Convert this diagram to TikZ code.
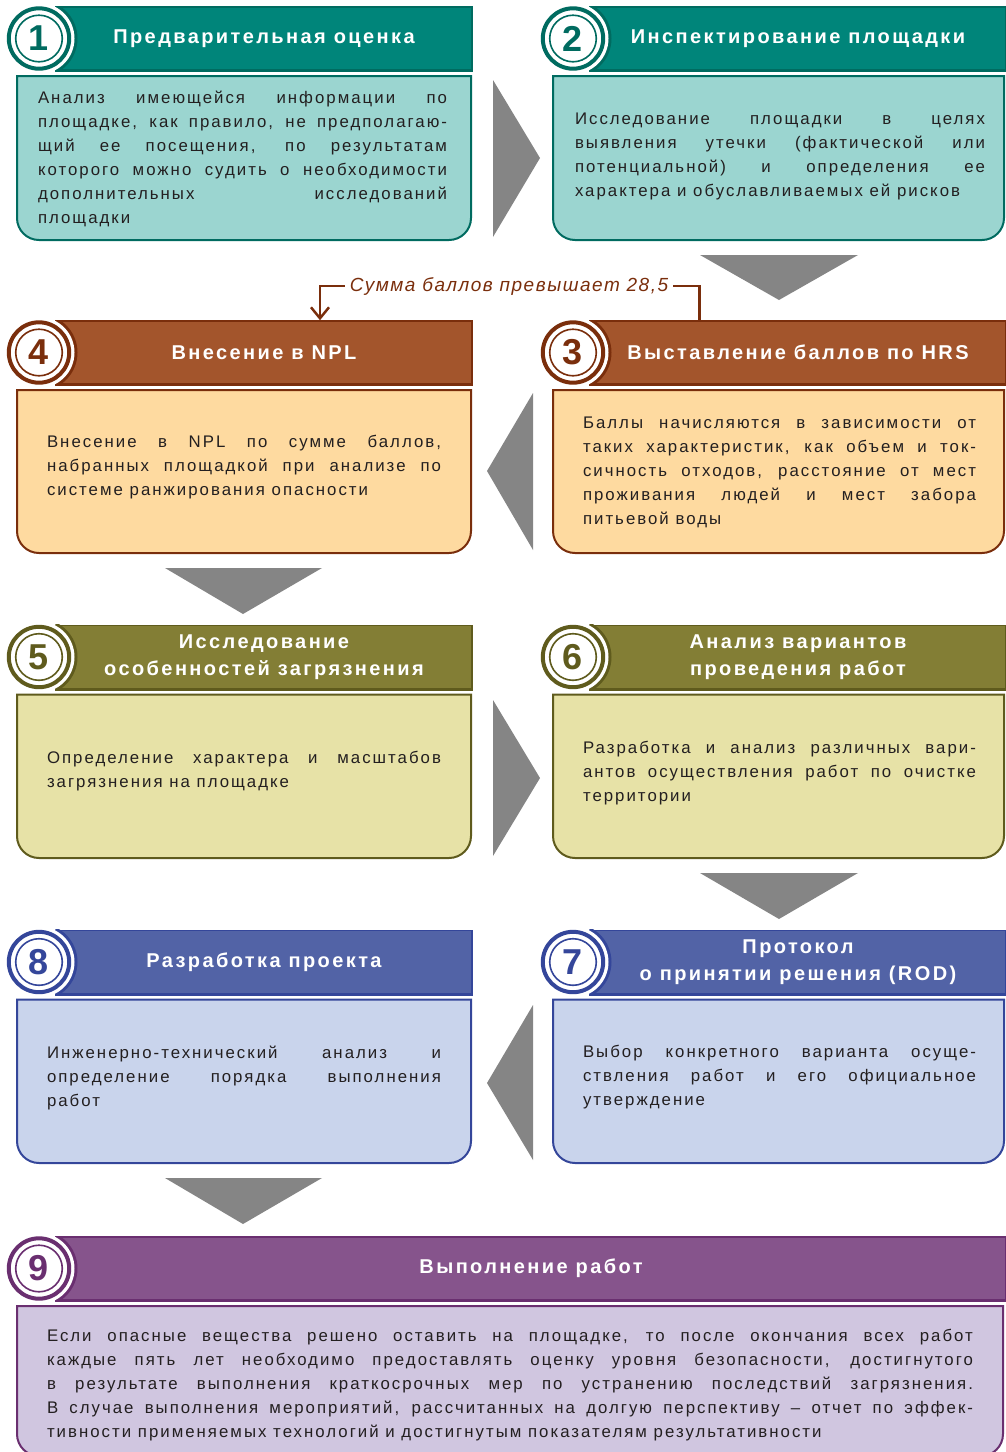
\documentclass[tikz,border=0pt]{standalone}
\usepackage{fontspec}
\setmainfont{Liberation Sans}
\newfontfamily\bodyfont[LetterSpace=12]{Liberation Sans}
\newfontfamily\headfont[LetterSpace=12]{Liberation Sans}
\newfontfamily\notefont[LetterSpace=8]{Liberation Sans}
\usepackage{tikz}
\usetikzlibrary{arrows.meta,positioning}
\usepackage{xcolor}
\definecolor{tlH}{HTML}{00857A}
\definecolor{tlD}{HTML}{006B60}
\definecolor{tlB}{HTML}{9BD5D0}
\definecolor{brH}{HTML}{A3552C}
\definecolor{brD}{HTML}{7A2E0C}
\definecolor{brB}{HTML}{FEDAA0}
\definecolor{olH}{HTML}{837E35}
\definecolor{olD}{HTML}{5F5B1D}
\definecolor{olB}{HTML}{E7E2A7}
\definecolor{blH}{HTML}{5263A6}
\definecolor{blD}{HTML}{34469A}
\definecolor{blB}{HTML}{C9D4EC}
\definecolor{puH}{HTML}{86548C}
\definecolor{puD}{HTML}{6A2F70}
\definecolor{puB}{HTML}{D0C6E0}
\definecolor{arrowgray}{HTML}{858585}
\definecolor{ink}{HTML}{231F20}
\newcommand{\panel}[5]{%
  \draw[#1] ({(#2+#4)/2},#5) [rounded corners=22pt] -- (#2,#5) -- (#2,{(#3+#5)/2})
    [sharp corners] -- (#2,#3) -- (#4,#3) -- (#4,{(#3+#5)/2})
    [rounded corners=22pt] -- (#4,#5) -- cycle;}

\begin{document}
\begin{tikzpicture}[x=1pt,y=-1pt,
    headbar/.style={rectangle, minimum height=63pt, inner sep=0pt, line width=1.5pt,
      text=white, align=center, font=\headfont\fontsize{20}{27}\selectfont\bfseries},
    numdisc/.style={circle, fill=white, line width=4pt, minimum size=60.4pt, inner sep=0pt,
      font=\fontsize{36}{36}\selectfont\bfseries},
    bodytext/.style={align=justify, inner sep=0pt, text=ink,
      font=\bodyfont\fontsize{16.8}{24}\selectfont},
    graytri/.style={fill=arrowgray},
    brline/.style={color=brD, line width=2.5pt},
    sumlabel/.style={text=brD, inner xsep=5pt, inner ysep=2pt,
      font=\notefont\fontsize{19}{23}\selectfont\itshape}]
  \useasboundingbox (0,0) rectangle (1005,1452);

  \foreach \n/\cx/\cy/\xl/\xr/\bl/\br/\bb/\sch/\ttl in {
      1/39/38.5/56/472/17/471/240/tl/{Предварительная оценка},
      2/573/38.5/590/1006/553/1004/240/tl/{Инспектирование площадки},
      3/573/352.5/590/1006/553/1004/553/br/{Выставление баллов по HRS},
      4/39/352.5/56/472/17/471/553/br/{Внесение в NPL},
      5/39/657/56/472/17/471/858/ol/{Исследование\\особенностей загрязнения},
      6/573/657/590/1006/553/1004/858/ol/{Анализ вариантов\\проведения работ},
      7/573/962/590/1006/553/1004/1163/bl/{Протокол\\о принятии решения (ROD)},
      8/39/962/56/472/17/471/1163/bl/{Разработка проекта},
      9/39/1268.5/56/1006/17/1003/1456/pu/{Выполнение работ}} {
    \panel{fill=\sch B, draw=\sch D, line width=2pt}{\bl}{\cy+37.5}{\br}{\bb}
    \node[headbar, fill=\sch H, draw=\sch D, minimum width={\xr pt-\xl pt}]
      (h\n) at ({(\xl+\xr)/2},\cy) {\ttl};
    \draw[color=\sch D, line width=3pt] (h\n.south west) -- (h\n.south east);
    \begin{scope}
      \clip (h\n.north west) rectangle (h\n.south east);
      \fill[color=\sch D] (\cx,\cy) circle (38.5pt);
    \end{scope}
    \fill[white] (\cx,\cy) circle (35.5pt);
    \node[numdisc, draw=\sch D, text=\sch D] (c\n) at (\cx,\cy) {\n};
    \draw[color=\sch D, line width=1.6pt] (c\n.center) circle (23.3pt);
  }

  \node[bodytext, text width=409pt] (t1) at (242.5,159) {Анализ имеющейся информации по\linebreak
    площадке, как правило, не предполагаю-\linebreak щий ее посещения, по результатам\linebreak
    которого можно судить о необходимости\linebreak дополнительных исследований\linebreak площадки};
  \node[bodytext, text width=410pt] (t2) at (780,156) {Исследование площадки в целях\linebreak
    выявления утечки (фактической или\linebreak потенциальной) и определения ее\linebreak
    характера и обуславливаемых ей рисков};
  \node[bodytext, text width=393pt] (t3) at (779.5,472) {Баллы начисляются в зависимости от\linebreak
    таких характеристик, как объем и ток-\linebreak сичность отходов, расстояние от мест\linebreak
    проживания людей и мест забора\linebreak питьевой воды};
  \node[bodytext, text width=394pt] (t4) at (244,467.5) {Внесение в NPL по сумме баллов,\linebreak
    набранных площадкой при анализе по\linebreak системе ранжирования опасности};
  \node[bodytext, text width=394pt] (t5) at (244,771.5) {Определение характера и масштабов\linebreak
    загрязнения на площадке};
  \node[bodytext, text width=393pt] (t6) at (779.5,773.5) {Разработка и анализ различных вари-\linebreak
    антов осуществления работ по очистке\linebreak территории};
  \node[bodytext, text width=393pt] (t7) at (779.5,1077.5) {Выбор конкретного варианта осуще-\linebreak
    ствления работ и его официальное\linebreak утверждение};
  \node[bodytext, text width=394pt] (t8) at (244,1077.5) {Инженерно-технический анализ и\linebreak
    определение порядка выполнения\linebreak работ};
  \node[bodytext, text width=926pt] (t9) at (510,1385.5) {Если опасные вещества решено оставить на площадке, то после окончания всех работ\linebreak
    каждые пять лет необходимо предоставлять оценку уровня безопасности, достигнутого\linebreak
    в результате выполнения краткосрочных мер по устранению последствий загрязнения.\linebreak
    В случае выполнения мероприятий, рассчитанных на долгую перспективу – отчет по эффек-\linebreak
    тивности применяемых технологий и достигнутым показателям результативности};

  \foreach \pa/\pb/\pc in {{493,80}/{493,237}/{540,158}, {533,393}/{533,550}/{487,471},
      {493,700}/{493,856}/{540,778}, {533,1005}/{533,1160}/{487,1083},
      {700,255}/{858,255}/{779,300}, {165,568}/{322,568}/{243,614},
      {700,873}/{858,873}/{779,919}, {165,1178}/{322,1178}/{243,1224}}
    \fill[graytri] (\pa) -- (\pb) -- (\pc) -- cycle;

  \node[sumlabel] (sum) at (509,286) {Сумма баллов превышает 28,5};
  \draw[brline] ([xshift=110pt]h3.north west) |- (sum.east);
  \draw[brline, -{Straight Barb[length=11pt,width=18pt]}] (sum.west) -| ([xshift=56pt]h4.north);
\end{tikzpicture}
\end{document}
